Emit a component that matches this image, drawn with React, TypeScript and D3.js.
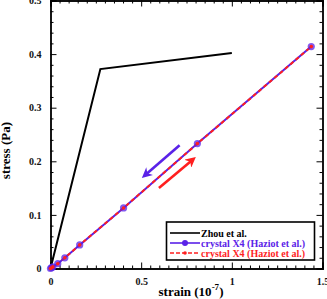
import React, { useEffect, useRef } from 'react';
import * as d3 from 'd3';

// Zhou et al.
const zhouStrain = [0, 0.275, 1.0];
const zhouStress = [0, 0.372, 0.402];

// crystal X4 (Haziot et al.)
const crystalStrain = [0, 0.006, 0.013, 0.04, 0.079, 0.161, 0.403, 0.81, 1.438];
const crystalStress = [0, 0.0015, 0.003, 0.009, 0.02, 0.044, 0.113, 0.233, 0.414];

const xTicks = [0, 0.5, 1, 1.5];
const yTicks = [0, 0.1, 0.2, 0.3, 0.4, 0.5];

// arrows: [x1, y1, x2, y2] in data units
const arrowBack = [0.712, 0.23, 0.521, 0.174];
const arrowForward = [0.598, 0.15, 0.784, 0.203];

const legendLabels = ['Zhou et al.', 'crystal X4 (Haziot et al.)', 'crystal X4 (Haziot et al.)'];

const BLUE = '#5a22e8';
const RED = '#ff1f1f';
const FONT = '"Liberation Serif", "DejaVu Serif", serif';

export default function App() {
  const ref = useRef<SVGSVGElement>(null);

  useEffect(() => {
    const width = 327, height = 299;
    const svg = d3.select(ref.current);
    svg.selectAll('*').remove();

    const x = d3.scaleLinear().domain([0, 1.5]).range([50.5, 322.5]);
    const y = d3.scaleLinear().domain([0, 0.5]).range([268.5, 0.5]);

    const xMinor = d3.range(0, 1.5001, 0.05).filter(v => Math.abs(v * 2 - Math.round(v * 2)) > 1e-6);
    const yMinor = d3.range(0, 0.5001, 0.02).filter(v => Math.abs(v * 10 - Math.round(v * 10)) > 1e-6);

    const styleAxis = (g: any) => {
      g.select('.domain').attr('stroke', '#000').attr('stroke-width', 1.4);
      g.selectAll('.tick line').attr('stroke', '#000').attr('stroke-width', 1);
      g.selectAll('.tick text')
        .attr('font-family', FONT)
        .attr('font-weight', 'bold')
        .attr('font-size', 10)
        .attr('fill', '#111');
    };

    // minor ticks
    svg.append('g').attr('transform', `translate(0,${y(0)})`)
      .call(d3.axisBottom(x).tickValues(xMinor).tickSize(-3).tickFormat(() => '')).call(styleAxis);
    svg.append('g').attr('transform', `translate(0,${y(0.5)})`)
      .call(d3.axisTop(x).tickValues(xMinor).tickSize(-3).tickFormat(() => '')).call(styleAxis);
    svg.append('g').attr('transform', `translate(${x(0)},0)`)
      .call(d3.axisLeft(y).tickValues(yMinor).tickSize(-3).tickFormat(() => '')).call(styleAxis);
    svg.append('g').attr('transform', `translate(${x(1.5)},0)`)
      .call(d3.axisRight(y).tickValues(yMinor).tickSize(-3).tickFormat(() => '')).call(styleAxis);

    // major ticks
    svg.append('g').attr('transform', `translate(0,${y(0)})`)
      .call(d3.axisBottom(x).tickValues(xTicks).tickSize(-6).tickPadding(9).tickFormat(d => String(d)))
      .call(styleAxis);
    svg.append('g').attr('transform', `translate(0,${y(0.5)})`)
      .call(d3.axisTop(x).tickValues(xTicks).tickSize(-6).tickFormat(() => '')).call(styleAxis);
    svg.append('g').attr('transform', `translate(${x(0)},0)`)
      .call(d3.axisLeft(y).tickValues(yTicks).tickSize(-6).tickPadding(9).tickFormat(d => String(d)))
      .call(styleAxis);
    svg.append('g').attr('transform', `translate(${x(1.5)},0)`)
      .call(d3.axisRight(y).tickValues(yTicks).tickSize(-6).tickFormat(() => '')).call(styleAxis);

    // axis titles
    svg.append('text')
      .attr('transform', `translate(10,${y(0.22)}) rotate(-90)`)
      .attr('text-anchor', 'middle')
      .attr('font-family', FONT).attr('font-weight', 'bold').attr('font-size', 13)
      .text('stress (Pa)');

    const xl = svg.append('text')
      .attr('x', 191).attr('y', 296)
      .attr('text-anchor', 'middle')
      .attr('font-family', FONT).attr('font-weight', 'bold').attr('font-size', 13);
    xl.append('tspan').text('strain (10');
    xl.append('tspan').attr('dy', -6).attr('font-size', 9).text('-7');
    xl.append('tspan').attr('dy', 6).text(')');

    const line = d3.line<number>();

    // Zhou
    svg.append('path')
      .attr('d', line(zhouStrain.map((s, i) => [x(s), y(zhouStress[i])])))
      .attr('fill', 'none').attr('stroke', '#000').attr('stroke-width', 2);

    const crystal = crystalStrain.map((s, i) => [x(s), y(crystalStress[i])] as [number, number]);
    svg.append('path')
      .attr('d', line(crystal))
      .attr('fill', 'none').attr('stroke', BLUE).attr('stroke-width', 2);
    svg.append('path')
      .attr('d', line(crystal))
      .attr('fill', 'none').attr('stroke', RED).attr('stroke-width', 2).attr('stroke-dasharray', '4,3');
    svg.append('g').selectAll('circle').data(crystal).enter().append('circle')
      .attr('cx', d => d[0]).attr('cy', d => d[1]).attr('r', 3.6)
      .attr('fill', BLUE).attr('fill-opacity', 0.75);
    svg.append('g').selectAll('circle').data(crystal).enter().append('circle')
      .attr('cx', d => d[0]).attr('cy', d => d[1]).attr('r', 1.8)
      .attr('fill', RED);

    // arrows
    const defs = svg.append('defs');
    [['ab', BLUE], ['af', RED]].forEach(([id, c]) => {
      defs.append('marker')
        .attr('id', id).attr('viewBox', '0 0 10 10').attr('refX', 6).attr('refY', 5)
        .attr('markerWidth', 4).attr('markerHeight', 4).attr('orient', 'auto')
        .append('path').attr('d', 'M0,0 L10,5 L0,10 L3,5 Z').attr('fill', c);
    });
    [[arrowBack, BLUE, 'ab'], [arrowForward, RED, 'af']].forEach(([a, c, id]: any) => {
      svg.append('line')
        .attr('x1', x(a[0])).attr('y1', y(a[1])).attr('x2', x(a[2])).attr('y2', y(a[3]))
        .attr('stroke', c).attr('stroke-width', 2.6)
        .attr('marker-end', `url(#${id})`);
    });

    // legend
    const lg = svg.append('g');
    lg.append('rect').attr('x', 166.5).attr('y', 222).attr('width', 148).attr('height', 38)
      .attr('fill', '#fff').attr('stroke', '#000').attr('stroke-width', 1.6);
    const rows = [233, 243, 253];
    const colors = ['#000', BLUE, RED];
    legendLabels.forEach((lab, i) => {
      lg.append('line').attr('x1', 170).attr('x2', 200).attr('y1', rows[i]).attr('y2', rows[i])
        .attr('stroke', colors[i]).attr('stroke-width', 1.6)
        .attr('stroke-dasharray', i === 2 ? '4,2' : null);
      if (i === 1) lg.append('circle').attr('cx', 185).attr('cy', rows[i]).attr('r', 3).attr('fill', BLUE);
      if (i === 2) lg.append('circle').attr('cx', 185).attr('cy', rows[i]).attr('r', 1.8).attr('fill', RED);
      lg.append('text').attr('x', 201).attr('y', rows[i] + 3.5)
        .attr('font-family', FONT).attr('font-weight', 'bold').attr('font-size', 10)
        .attr('fill', colors[i]).text(lab);
    });

    svg.attr('width', width).attr('height', height);
  }, []);

  return (
    <svg ref={ref} width={327} height={299}
      style={{ position: 'fixed', left: 0, top: 0, background: '#fff' }} />
  );
}
